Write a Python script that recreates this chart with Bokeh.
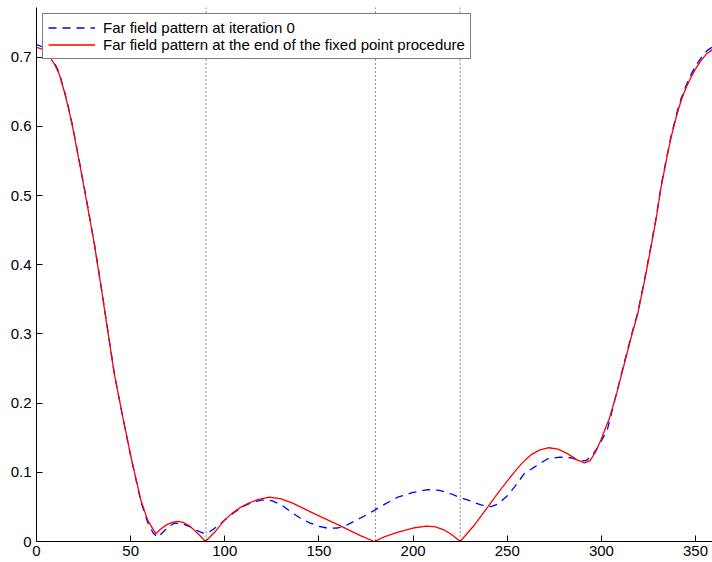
from bokeh.plotting import figure
from bokeh.models import Range1d, FixedTicker, Span, Legend, LegendItem
from bokeh.embed import file_html
from bokeh.resources import INLINE

# ---- data ----
x_final = [0, 3, 6, 9.5, 12, 14.8, 17, 19.2, 23.6, 27.2, 30.7, 34.3, 37.8, 41.3, 45.8, 50.2, 55.5, 59.1, 63.3,
           66, 69, 72, 75, 78, 81, 84, 87, 89.7,
           95, 99.7, 104, 108.6, 113, 118, 123.6, 130, 136, 142, 148, 154, 160, 166, 172, 179.4,
           185, 192, 200, 207, 212, 217, 221, 225,
           232, 239.6, 245, 250.2, 254, 257.3, 260, 263, 267, 272, 277, 282, 287, 291, 294, 297, 300, 302,
           304.2, 308, 312.2, 316, 319.3, 323, 326.3, 329, 331.7, 334.5, 337, 340, 342.3, 345,
           347.6, 350, 352.9, 356, 360]
y_final = [0.714, 0.7115, 0.705, 0.690, 0.676, 0.650, 0.626, 0.599, 0.536, 0.483, 0.430, 0.368, 0.305, 0.2425, 0.180, 0.122, 0.059, 0.0305, 0.0113,
           0.018, 0.024, 0.0275, 0.029, 0.0275, 0.023, 0.016, 0.008, 0.0,
           0.0145, 0.0305, 0.041, 0.0497, 0.056, 0.061, 0.064, 0.0615, 0.0555, 0.0475, 0.0395, 0.032, 0.0245, 0.0165, 0.0085, 0.0,
           0.007, 0.0135, 0.0195, 0.0223, 0.021, 0.016, 0.009, 0.0,
           0.022, 0.0497, 0.07, 0.088, 0.101, 0.1115, 0.119, 0.126, 0.132, 0.1355, 0.1335, 0.127, 0.118, 0.1135, 0.117, 0.13, 0.148, 0.163,
           0.1775, 0.213, 0.257, 0.297, 0.329, 0.378, 0.425, 0.465, 0.512, 0.551, 0.584, 0.616, 0.637, 0.656,
           0.671, 0.683, 0.695, 0.705, 0.713]

x_init = [0, 3, 6, 9.5, 12, 14.8, 17, 19.2, 23.6, 27.2, 30.7, 34.3, 37.8, 41.3, 45.8, 50.2, 55.5, 59.1, 62, 64.4,
          67, 70, 73.2, 77, 81, 85, 89, 92, 96, 100, 105, 110, 115, 120, 125, 130, 135, 140, 145, 150,
          155, 160, 165, 170, 175, 179.4, 185, 191.8, 200, 207.8, 214, 220, 224.5, 230, 236, 241.4,
          245, 250.2, 253.8, 259, 264.4, 271.5, 278, 283.9, 289, 292, 295, 298, 300.5, 303.3,
          308, 312.2, 316, 319.3, 323, 326.3, 329, 331.7, 334.5, 337, 340, 342.3, 345, 347.6, 350,
          352.9, 356, 360]
y_init = [0.718, 0.715, 0.707, 0.692, 0.678, 0.651, 0.627, 0.600, 0.537, 0.484, 0.431, 0.369, 0.306, 0.243, 0.180, 0.121, 0.057, 0.027, 0.012, 0.006,
          0.013, 0.021, 0.0266, 0.026, 0.022, 0.016, 0.0115, 0.014, 0.022, 0.031, 0.042, 0.051, 0.057, 0.060, 0.059, 0.053, 0.043, 0.034, 0.027, 0.022,
          0.019, 0.0195, 0.024, 0.031, 0.038, 0.045, 0.054, 0.064, 0.071, 0.0749, 0.074, 0.069, 0.064, 0.059, 0.053, 0.0505,
          0.054, 0.0666, 0.0786, 0.098, 0.1075, 0.1196, 0.122, 0.121, 0.117, 0.117, 0.124, 0.136, 0.148, 0.163,
          0.214, 0.259, 0.299, 0.331, 0.380, 0.427, 0.467, 0.514, 0.553, 0.586, 0.619, 0.640, 0.659, 0.675, 0.687,
          0.699, 0.709, 0.717]

vlines = [90, 180, 225]

x_ticks = [0, 50, 100, 150, 200, 250, 300, 350]
y_ticks = [0, 0.1, 0.2, 0.3, 0.4, 0.5, 0.6, 0.7]
y_tick_labels = ["0", "0.1", "0.2", "0.3", "0.4", "0.5", "0.6", "0.7"]

label_init = "Far field pattern at iteration 0"
label_final = "Far field pattern at the end of the fixed point procedure"

FONT = "Liberation Sans"

p = figure(width=712, height=562, output_backend="svg", toolbar_location=None,
           x_range=Range1d(0, 359), y_range=Range1d(0, 0.7717),
           min_border_left=36, min_border_right=0, min_border_top=7, min_border_bottom=21)
p.outline_line_color = None
p.grid.visible = False
p.background_fill_color = "white"
p.border_fill_color = "white"

for ax in (p.xaxis[0], p.yaxis[0]):
    ax.axis_line_color = "black"
    ax.axis_line_width = 1
    ax.major_tick_in = 6
    ax.major_tick_out = 0
    ax.minor_tick_in = 0
    ax.minor_tick_out = 0
    ax.major_tick_line_color = "black"
    ax.major_label_text_font = FONT
    ax.major_label_text_font_size = "15px"
    ax.major_label_text_color = "black"

p.xaxis[0].ticker = FixedTicker(ticks=x_ticks)
p.xaxis[0].major_label_standoff = 4
p.yaxis[0].ticker = FixedTicker(ticks=y_ticks)
p.yaxis[0].major_label_overrides = {t: s for t, s in zip(y_ticks, y_tick_labels)}
p.yaxis[0].major_label_standoff = 5

for v in vlines:
    p.add_layout(Span(location=v, dimension="height", line_color="black",
                      line_width=1, line_dash="1 3", line_alpha=0.9))

r_init = p.line(x_init, y_init, line_color="#0000ff", line_width=1.3, line_dash="8 6")
r_final = p.line(x_final, y_final, line_color="#ff0000", line_width=1.3)

legend = Legend(items=[LegendItem(label=label_init, renderers=[r_init]),
                       LegendItem(label=label_final, renderers=[r_final])],
                location="top_left", margin=6, padding=5, spacing=0,
                label_height=17, glyph_height=17, glyph_width=47, label_standoff=8,
                label_text_font=FONT, label_text_font_size="15px", label_text_color="black",
                border_line_color="black", border_line_width=1.5,
                background_fill_color="white", background_fill_alpha=1)
p.add_layout(legend, "center")

open("out.html", "w").write(file_html(p, INLINE))
